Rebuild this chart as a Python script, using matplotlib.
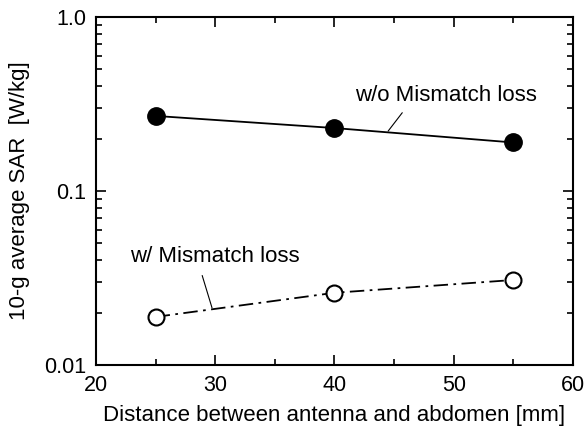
import numpy as np
import matplotlib.pyplot as plt
from matplotlib.ticker import LogLocator, MultipleLocator, FixedFormatter, FixedLocator

plt.rcParams['font.family'] = ['Liberation Sans', 'DejaVu Sans']

distance = [25, 40, 55]
sar_wo = [0.27, 0.23, 0.19]
sar_w = [0.0189, 0.026, 0.0308]

def main():
    fig = plt.figure(figsize=(5.86, 4.29), dpi=100)
    ax = fig.add_axes([0.1638, 0.1492, 0.814, 0.8112])

    ax.plot(distance, sar_wo, color='black', lw=1.3, marker='o', ms=12.5,
            mfc='black', mec='black')
    ax.plot(distance, sar_w, color='black', lw=1.3, ls=(0, (8, 3, 1.5, 3)),
            marker='o', ms=11.5, mfc='white', mec='black', mew=1.5)

    ax.set_yscale('log')
    ax.set_xlim(20, 60)
    ax.set_ylim(0.01, 1.0)
    ax.xaxis.set_major_locator(MultipleLocator(10))
    ax.xaxis.set_minor_locator(MultipleLocator(5))
    ax.yaxis.set_major_locator(FixedLocator([0.01, 0.1, 1.0]))
    ax.yaxis.set_major_formatter(FixedFormatter(['0.01', '0.1', '1.0']))
    ax.yaxis.set_minor_locator(LogLocator(base=10, subs=np.arange(2, 10)))
    ax.yaxis.set_minor_formatter(FixedFormatter([]))

    ax.tick_params(which='both', direction='in', top=True, right=True,
                   labelsize=15.5, width=1.2, pad=7)
    ax.tick_params(which='major', length=7)
    ax.tick_params(which='minor', length=4)
    for s in ax.spines.values():
        s.set_linewidth(1.5)

    ax.set_xlabel('Distance between antenna and abdomen [mm]', fontsize=16, labelpad=7)
    ax.set_ylabel('10-g average SAR  [W/kg]', fontsize=16, labelpad=10)

    ax.annotate('w/o Mismatch loss', xy=(44.5, 0.221), xytext=(49.35, 0.356),
                fontsize=16, ha='center', va='center',
                arrowprops=dict(arrowstyle='-', color='black', lw=0.8,
                                relpos=(0.29, 0.0), shrinkA=4, shrinkB=0))
    ax.annotate('w/ Mismatch loss', xy=(29.73, 0.0213), xytext=(29.98, 0.0418),
                fontsize=16, ha='center', va='center',
                arrowprops=dict(arrowstyle='-', color='black', lw=0.8,
                                relpos=(0.41, 0.0), shrinkA=4, shrinkB=0))

    fig.savefig('out.png', dpi=100)

if __name__ == "__main__":
    main()
